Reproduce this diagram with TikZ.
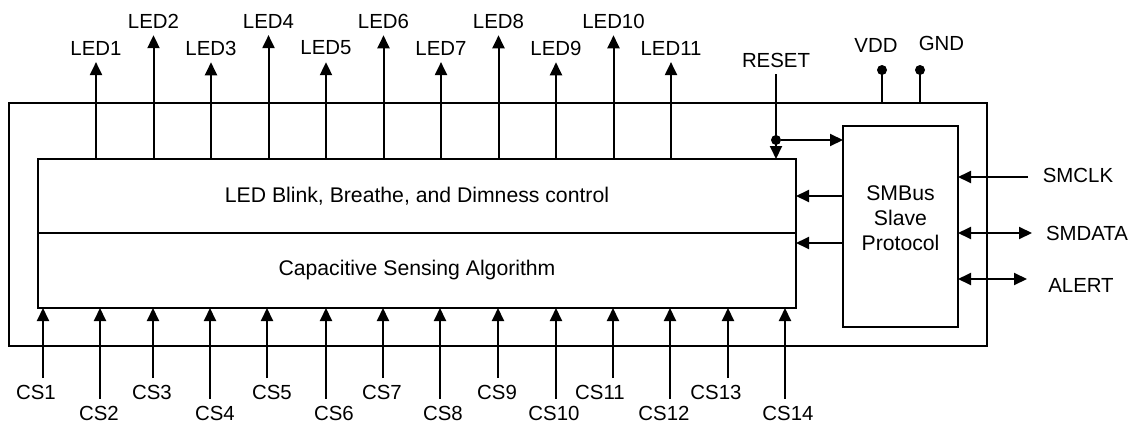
\documentclass[tikz,border=0pt]{standalone}
\usepackage{fontspec}
\setmainfont{Liberation Sans}
\usetikzlibrary{arrows.meta}

\tikzset{
	wire/.style = {line width = 1pt, -{Triangle[length = 6.5pt, width = 6pt]}},
	wire2/.style = {line width = 1pt, {Triangle[length = 6.5pt, width = 6pt]}-{Triangle[length = 6.5pt, width = 6pt]}},
	pin/.style = {font = \fontsize{10.2}{12}\selectfont, inner sep = 3.33pt},
	block/.style = {draw, line width = 1pt, inner sep = 0pt, outer sep = 0pt, font = \fontsize{10.6}{12.5}\selectfont},
	dot/.style = {circle, fill, inner sep = 0pt, minimum size = 5pt}
}

\begin{document}
\begin{tikzpicture}[x = 0.5pt, y = -0.5pt]
	\useasboundingbox (0, 0) rectangle (1135, 423);
	
	\node[block, minimum width = 489pt, minimum height = 121.5pt] (chip) at (498, 224.5) {};
	\node[block, minimum width = 379pt, minimum height = 37pt] (ledctl) at (417, 196) {LED Blink, Breathe, and Dimness control};
	\node[block, minimum width = 379pt, minimum height = 37.5pt] (capsense) at (417, 270.5) {Capacitive Sensing Algorithm};
	\node[block, minimum width = 57.5pt, minimum height = 100.5pt] (smbus) at (900.5, 226.5) {};
	\node[align = center, font = \fontsize{10.6}{12.5}\selectfont] (smbustext) at (900.5, 218) {SMBus\\Slave\\Protocol};
	
	% LED outputs
	\foreach \i in {1, ..., 11} {
		\pgfmathsetmacro{\x}{96 + 57.5 * (\i - 1)}
		\pgfmathsetmacro{\y}{ifthenelse(isodd(\i), 48, 21)}
		\node[pin] (led\i) at (\x, \y) {LED\i};
		\draw[wire] (ledctl.north -| led\i) -- (led\i.south);
	}
	
	% sensor inputs
	\foreach \i/\x/\lx in {1/43/36, 2/100/99, 3/153/152, 4/210/215, 5/267/272, 6/326/334, 7/383/382, 8/440/443, 9/498/497, 10/556/554, 11/613/600, 12/670/664, 13/728/716, 14/785/788} {
		\pgfmathsetmacro{\y}{ifthenelse(isodd(\i), 392.5, 413)}
		\node[pin] (cs\i) at (\lx, \y) {CS\i};
		\coordinate (cspin\i) at (\x, 0);
		\draw[wire] (cs\i.north -| cspin\i) -- (cspin\i |- capsense.south);
	}
	
	% reset
	\node[pin] (reset) at (776, 60) {RESET};
	\node[dot] (rstdot) at (776, 140) {};
	\draw[wire] (reset.south) -- (reset.south |- ledctl.north);
	\draw[wire] (rstdot) -- (rstdot -| smbus.west);
	
	% supply
	\node[dot] (vdddot) at (882, 70) {};
	\node[dot] (gnddot) at (920, 70) {};
	\node[pin] (vdd) at (876, 45) {VDD};
	\node[pin] (gnd) at (941.5, 43) {GND};
	\draw[line width = 1pt] (vdddot.center) -- (vdddot |- chip.north);
	\draw[line width = 1pt] (gnddot.center) -- (gnddot |- chip.north);
	
	% SMBus lines
	\node[pin] (smclk) at (1078, 175) {SMCLK};
	\node[pin] (smdata) at (1087, 233.5) {SMDATA};
	\node[pin] (alert) at (1081, 285) {ALERT};
	\coordinate (clkend) at (1028, 177);
	\coordinate (dataend) at (1032, 233);
	\coordinate (alertend) at (1027, 279);
	\draw[wire] (clkend) -- (clkend -| smbus.east);
	\draw[wire2] (dataend -| smbus.east) -- (dataend);
	\draw[wire2] (alertend -| smbus.east) -- (alertend);
	
	\draw[wire] (smbus.west |- ledctl.east) -- (ledctl.east);
	\coordinate (sensein) at ([yshift = -5pt] capsense.north east);
	\draw[wire] (smbus.west |- sensein) -- (sensein);
\end{tikzpicture}
\end{document}
